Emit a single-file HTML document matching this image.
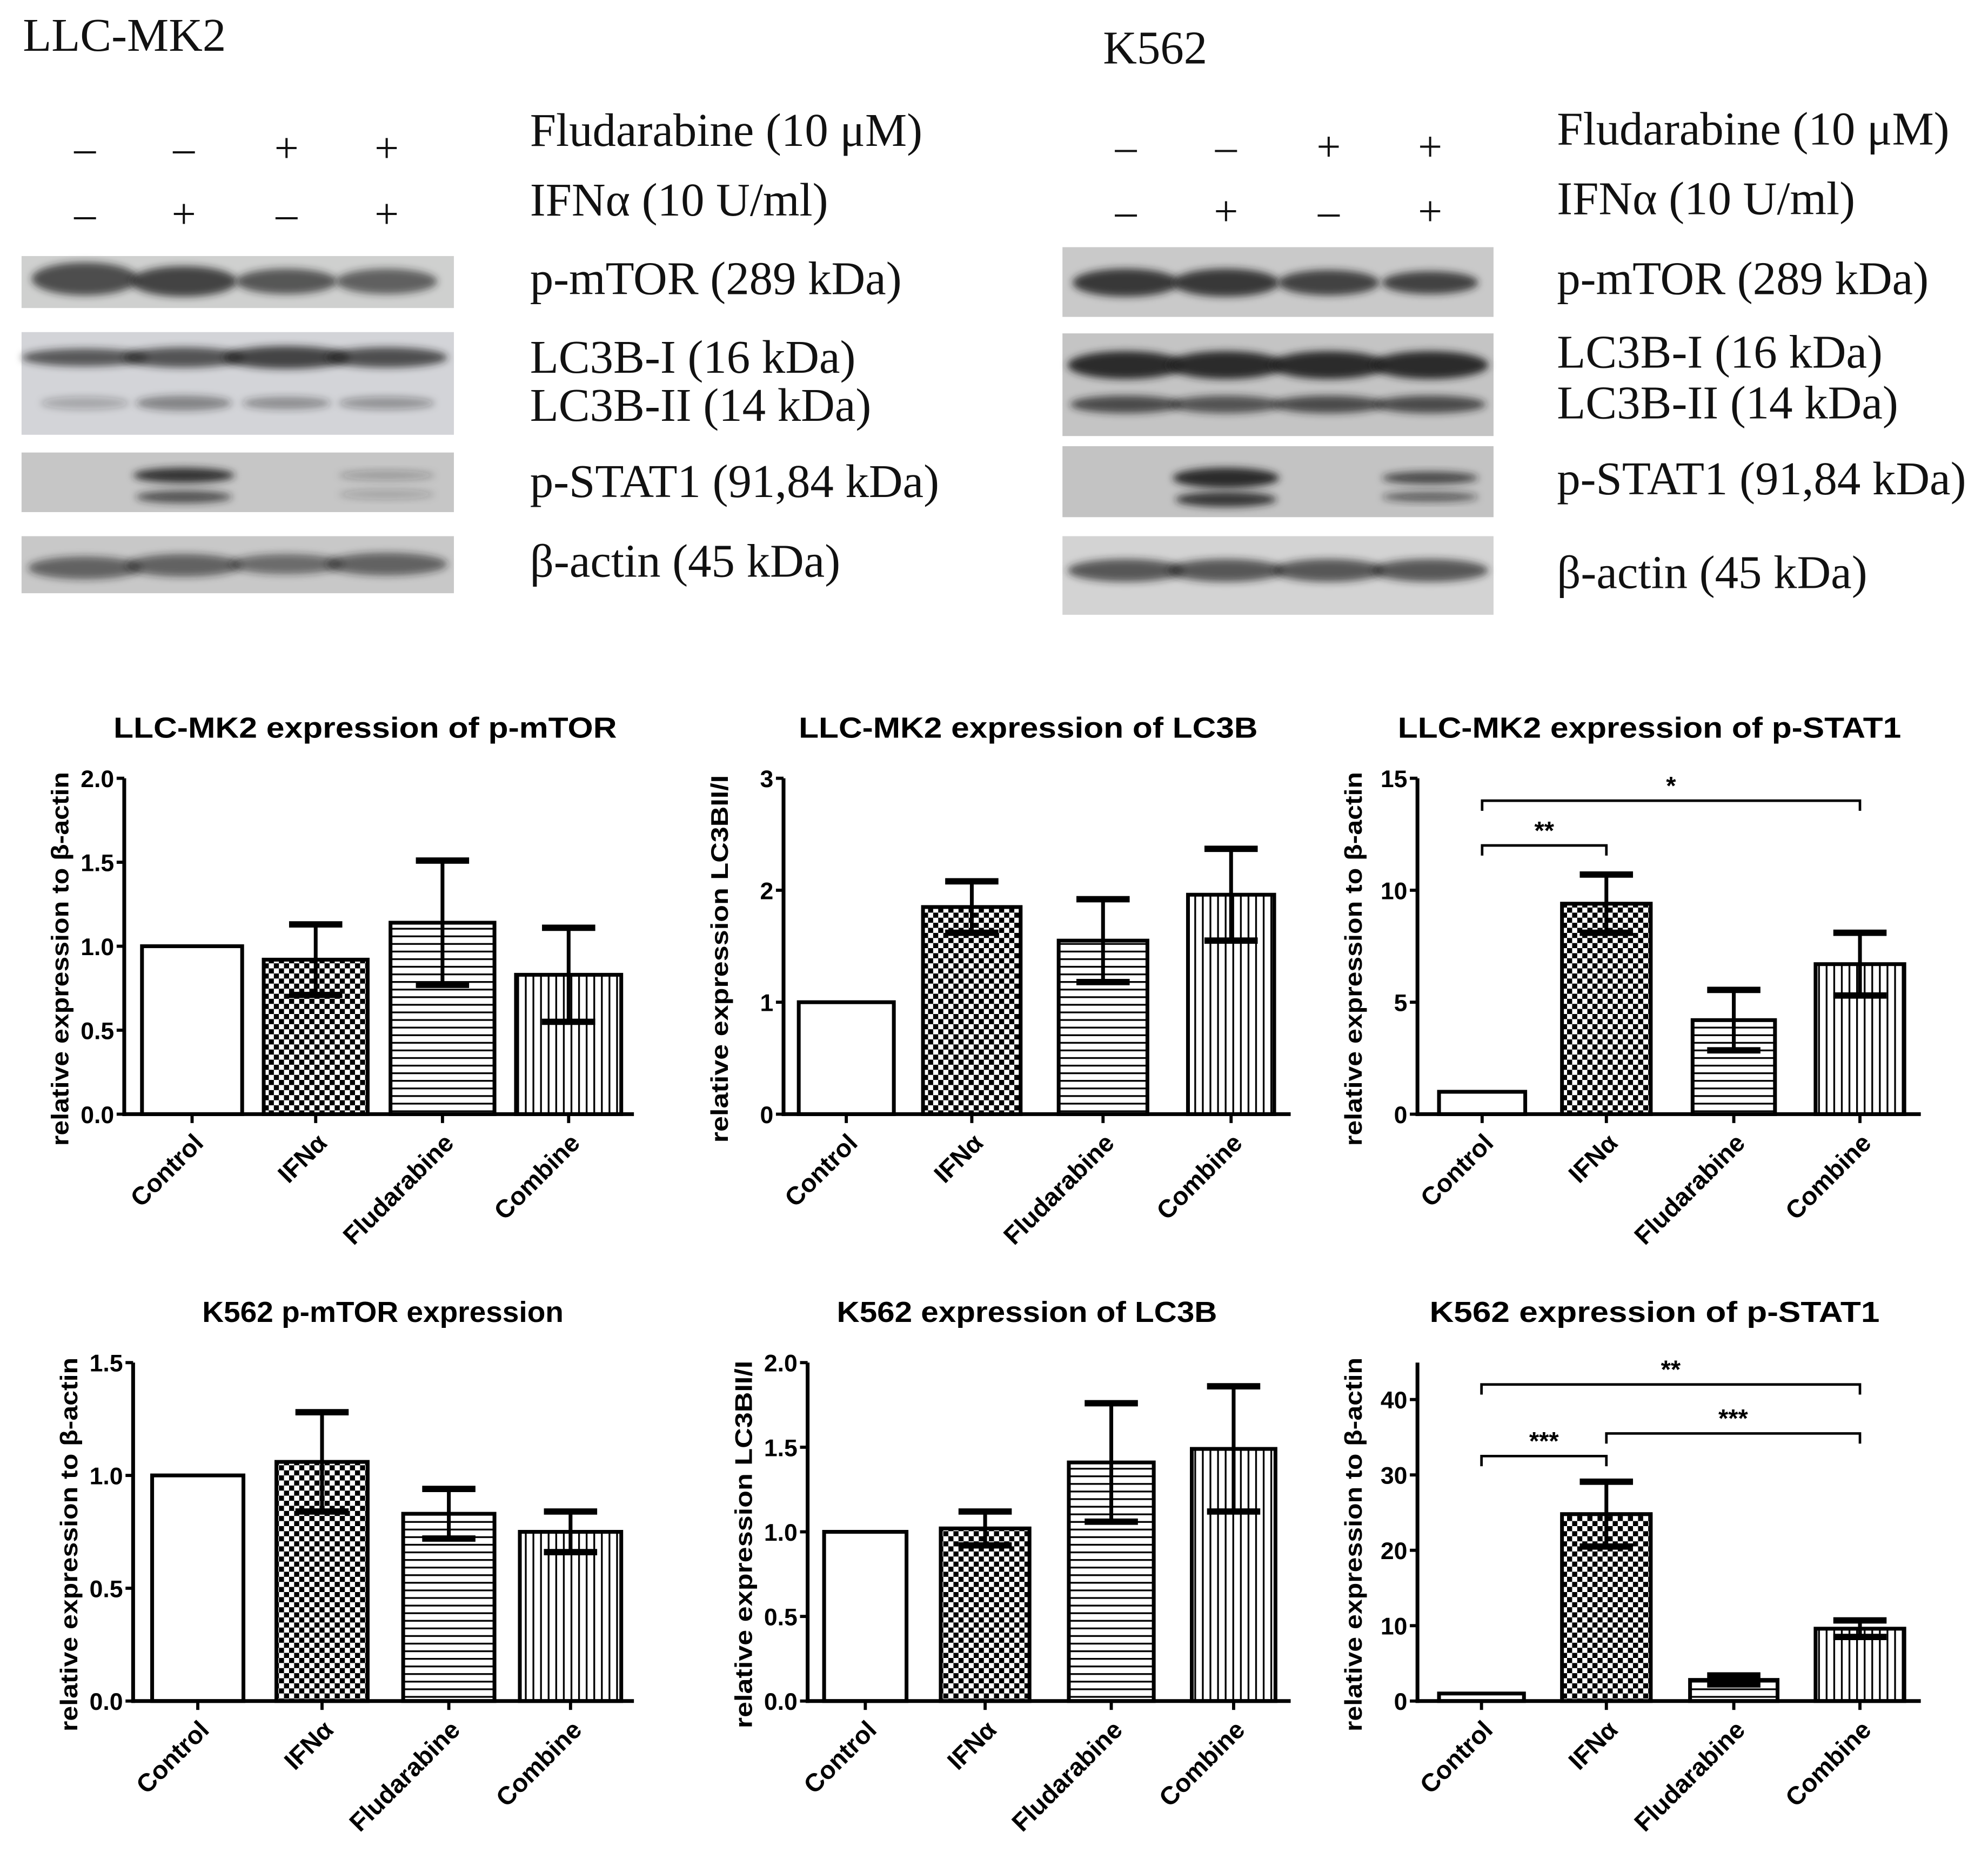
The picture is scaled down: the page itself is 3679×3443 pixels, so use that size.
<!DOCTYPE html>
<html><head><meta charset="utf-8"><style>
html,body{margin:0;padding:0;background:#fff;}
svg{display:block;}
.serif{font-family:"Liberation Serif",serif;fill:#111;}
.sans{font-family:"Liberation Sans",sans-serif;font-weight:bold;fill:#000;}
</style></head><body>
<svg id="fig" xmlns="http://www.w3.org/2000/svg" width="3679" height="3443" viewBox="0 0 1568 1467.4">
<defs>
<pattern id="checker" width="8" height="8" patternUnits="userSpaceOnUse"><rect width="8" height="8" fill="#fff"/><rect width="4" height="4" fill="#000"/><rect x="4" y="4" width="4" height="4" fill="#000"/></pattern>
<pattern id="hlines" width="8" height="6" patternUnits="userSpaceOnUse"><rect width="8" height="6" fill="#fff"/><rect y="0" width="8" height="1.4" fill="#000"/></pattern>
<pattern id="vlines" width="6" height="8" patternUnits="userSpaceOnUse"><rect width="6" height="8" fill="#fff"/><rect x="0" width="1.4" height="8" fill="#000"/></pattern>
<filter id="blur" x="-20%" y="-50%" width="140%" height="200%"><feGaussianBlur stdDeviation="3"/></filter>
</defs>
<g id="blots"></g>
<g id="charts"></g>
</svg>
<script>
const NS="http://www.w3.org/2000/svg";
const categories=["Control","IFN\u03b1","Fludarabine","Combine"];
const fills=["#fff","url(#checker)","url(#hlines)","url(#vlines)"];
const values1=[1,0.92,1.14,0.83]; const err1=[0,0.21,0.37,0.28];
const values2=[1,1.85,1.55,1.96]; const err2=[0,0.23,0.37,0.41];
const values3=[1,9.4,4.2,6.7]; const err3=[0,1.3,1.35,1.4];
const values4=[1,1.06,0.83,0.75]; const err4=[0,0.22,0.11,0.09];
const values5=[1,1.02,1.41,1.49]; const err5=[0,0.10,0.35,0.37];
const values6=[1,24.8,2.8,9.6]; const err6=[0,4.3,0.6,1.1];
const ticks1=[0,0.5,1.0,1.5,2.0]; const tickLabels1=["0.0","0.5","1.0","1.5","2.0"];
const ticks2=[0,1,2,3]; const tickLabels2=["0","1","2","3"];
const ticks3=[0,5,10,15]; const tickLabels3=["0","5","10","15"];
const ticks4=[0,0.5,1.0,1.5]; const tickLabels4=["0.0","0.5","1.0","1.5"];
const ticks5=[0,0.5,1.0,1.5,2.0]; const tickLabels5=["0.0","0.5","1.0","1.5","2.0"];
const ticks6=[0,10,20,30,40]; const tickLabels6=["0","10","20","30","40"];
const sig3=[[0,1,12,"**"],[0,3,14,"*"]];
const sig6=[[0,1,32.5,"***"],[1,3,35.5,"***"],[0,3,42,"**"]];

function el(tag,attrs,parent,text){const e=document.createElementNS(NS,tag);for(const k in attrs)e.setAttribute(k,attrs[k]);if(text!==undefined)e.textContent=text;parent.appendChild(e);return e;}

// ---- blots ----
const blots=document.getElementById('blots');
function drawBlot(name,x0,lanes,strips,signY,labelX,labels,signs){
  const g=el('g',{},blots);
  
  
  signs.forEach((row,ri)=>row.forEach((s,i)=>{
    const t=el('text',{x:lanes[i],y:signY[ri]+10,'text-anchor':'middle','font-size':34,class:'serif'},g,s?'+':'\u2013');
    
    
  }));
  strips.forEach(st=>{
    const r=el('rect',{x:st.x,y:st.y,width:st.w,height:st.h,fill:st.bg},g);
    
    
    st.bands.forEach(b=>{
      const e=el('ellipse',{cx:lanes[b[0]],cy:st.y+b[1],rx:b[2],ry:b[3],fill:'#222','fill-opacity':b[4],filter:'url(#blur)'},g);
      
      
    });
  });
  labels.forEach(l=>{
    const t=el('text',{x:labelX,y:l[1],'font-size':37,class:'serif'},g,l[0]);
    
    
  });
}
const signsRows=[[0,0,1,1],[0,1,0,1]];
drawBlot('blot-llc-mk2',17,[67,145,226,305],[
 {x:17,y:202,w:341,h:41,bg:'#cfd0cf',bands:[[0,18,42,13,0.75],[1,20,42,12,0.8],[2,20,40,10,0.7],[3,20,40,10,0.65]]},
 {x:17,y:262,w:341,h:81,bg:'#d3d4d8',bands:[[0,20,50,7,0.7],[1,20,48,8,0.72],[2,20,50,9,0.8],[3,20,48,8,0.75],[0,56,35,5,0.25],[1,56,38,6,0.45],[2,56,35,5,0.4],[3,56,38,5,0.35]]},
 {x:17,y:357,w:341,h:47,bg:'#c6c6c6',bands:[[1,18,40,6,0.9],[1,35,38,5,0.7],[3,18,38,4,0.25],[3,33,38,4,0.2]]},
 {x:17,y:423,w:341,h:45,bg:'#c8c8c8',bands:[[0,25,45,9,0.6],[1,23,46,9,0.6],[2,22,45,8,0.55],[3,22,48,9,0.6]]}
],[118,170],418,[["Fludarabine (10 \u03bcM)",115],["IFN\u03b1 (10 U/ml)",170],["p-mTOR (289 kDa)",232],["LC3B-I (16 kDa)",294],["LC3B-II (14 kDa)",332],["p-STAT1 (91,84 kDa)",392],["\u03b2-actin (45 kDa)",455]],signsRows);
drawBlot('blot-k562',838,[888,967,1048,1128],[
 {x:838,y:195,w:340,h:55,bg:'#c9c9c9',bands:[[0,28,42,11,0.85],[1,28,42,11,0.85],[2,28,40,10,0.8],[3,28,38,9,0.8]]},
 {x:838,y:263,w:340,h:81,bg:'#c4c4c4',bands:[[0,25,46,11,0.95],[1,25,46,11,0.95],[2,25,46,11,0.95],[3,25,46,11,0.95],[0,56,44,7,0.75],[1,56,44,7,0.7],[2,56,44,7,0.75],[3,56,44,7,0.75]]},
 {x:838,y:352,w:340,h:56,bg:'#c3c3c3',bands:[[1,25,42,8,0.95],[1,42,40,6,0.85],[3,25,38,5,0.75],[3,40,38,4,0.6]]},
 {x:838,y:423,w:340,h:62,bg:'#d3d3d3',bands:[[0,27,46,9,0.7],[1,27,46,9,0.7],[2,27,44,9,0.7],[3,27,46,9,0.7]]}
],[117,168],1228,[["Fludarabine (10 \u03bcM)",114],["IFN\u03b1 (10 U/ml)",169],["p-mTOR (289 kDa)",232],["LC3B-I (16 kDa)",290],["LC3B-II (14 kDa)",330],["p-STAT1 (91,84 kDa)",390],["\u03b2-actin (45 kDa)",464]],signsRows);
[["LLC-MK2",18,40],["K562",870,50]].forEach(l=>{
  const t=el('text',{x:l[1],y:l[2],'font-size':37,class:'serif'},blots,l[0]);
  
  
});

// ---- charts ----
const charts=document.getElementById('charts');
function drawChart(name,title,titleX,titleLen,ylabel,ylabLen,axisX,xEnd,bars,y0,yTop,yMax,ticks,tickLabels,values,errs,sigs){
  const g=el('g',{},charts);
  
  
  const ys=v=>y0-(v/yMax)*(y0-yTop);
  const t=el('text',{x:titleX,y:yTop-32,'text-anchor':'middle','font-size':23,textLength:titleLen,lengthAdjust:'spacingAndGlyphs',class:'sans'},g,title);
  
  
  const yl=el('text',{x:0,y:0,'text-anchor':'middle','font-size':19,textLength:ylabLen,lengthAdjust:'spacingAndGlyphs',class:'sans',transform:`translate(${axisX-44},${(y0+yTop)/2+10}) rotate(-90)`},g,ylabel);
  
  
  values.forEach((v,i)=>{
    const [bx0,bx1]=bars[i];
    const r=el('rect',{x:bx0,y:ys(v),width:bx1-bx0,height:y0-ys(v),fill:fills[i],stroke:'#000','stroke-width':3},g);
    
    
    const cx=(bx0+bx1)/2;
    if(errs[i]>0){
      const eg=el('g',{stroke:'#000','stroke-width':3},g);
      
      
      el('line',{x1:cx,x2:cx,y1:ys(v+errs[i]),y2:ys(v-errs[i])},eg);
      el('line',{x1:cx-21,x2:cx+21,y1:ys(v+errs[i]),y2:ys(v+errs[i]),'stroke-width':5},eg);
      el('line',{x1:cx-21,x2:cx+21,y1:ys(v-errs[i]),y2:ys(v-errs[i]),'stroke-width':5},eg);
    }
    el('line',{x1:cx,x2:cx,y1:y0,y2:y0+7,stroke:'#000','stroke-width':2.5},g);
    const xl=el('text',{x:0,y:0,'text-anchor':'end','font-size':20,class:'sans',transform:`translate(${cx+10},${y0+24}) rotate(-45)`},g,categories[i]);
    
    
  });
  el('line',{x1:axisX,x2:axisX,y1:yTop,y2:y0+1.5,stroke:'#000','stroke-width':3},g);
  el('line',{x1:axisX-1.5,x2:xEnd,y1:y0,y2:y0,stroke:'#000','stroke-width':3},g);
  ticks.forEach((tv,i)=>{
    el('line',{x1:axisX-6,x2:axisX,y1:ys(tv),y2:ys(tv),stroke:'#000','stroke-width':2.5},g);
    const tl=el('text',{x:axisX-8,y:ys(tv)+7,'text-anchor':'end','font-size':19,class:'sans'},g,tickLabels[i]);
    
    
  });
  (sigs||[]).forEach(s=>{
    const xa=(bars[s[0]][0]+bars[s[0]][1])/2, xb=(bars[s[1]][0]+bars[s[1]][1])/2, yy=ys(s[2]);
    const p=el('path',{d:`M${xa},${yy+8}V${yy}H${xb}V${yy+8}`,fill:'none',stroke:'#000','stroke-width':2},g);
    
    
    const st=el('text',{x:(xa+xb)/2,y:yy-5,'text-anchor':'middle','font-size':20,class:'sans'},g,s[3]);
    
    
  });
}
const betaLab="relative expression to \u03b2-actin";
drawChart('chart-llc-mtor','LLC-MK2 expression of p-mTOR',288,397,betaLab,295,98,500,[[112,191],[208,290],[308,390],[407,490]],879,614,2.0,ticks1,tickLabels1,values1,err1);
drawChart('chart-llc-lc3b','LLC-MK2 expression of LC3B',811,362,'relative expression LC3BII/I',290,618,1018,[[630,705],[728,805],[835,905],[937,1005]],879,614,3,ticks2,tickLabels2,values2,err2);
drawChart('chart-llc-stat1','LLC-MK2 expression of p-STAT1',1301,397,betaLab,295,1118,1515,[[1135,1203],[1232,1302],[1335,1400],[1432,1502]],879,614,15,ticks3,tickLabels3,values3,err3,sig3);
drawChart('chart-k562-mtor','K562 p-mTOR expression',302,285,betaLab,295,105,500,[[120,192],[218,290],[318,390],[410,490]],1342,1075,1.5,ticks4,tickLabels4,values4,err4);
drawChart('chart-k562-lc3b','K562 expression of LC3B',810,300,'relative expression LC3BII/I',290,637,1018,[[650,715],[742,812],[843,910],[940,1006]],1342,1075,2.0,ticks5,tickLabels5,values5,err5);
drawChart('chart-k562-stat1','K562 expression of p-STAT1',1305,355,betaLab,295,1118,1515,[[1135,1202],[1232,1302],[1333,1402],[1432,1502]],1342,1075,44.9,ticks6,tickLabels6,values6,err6,sig6);
</script>
</body></html>
